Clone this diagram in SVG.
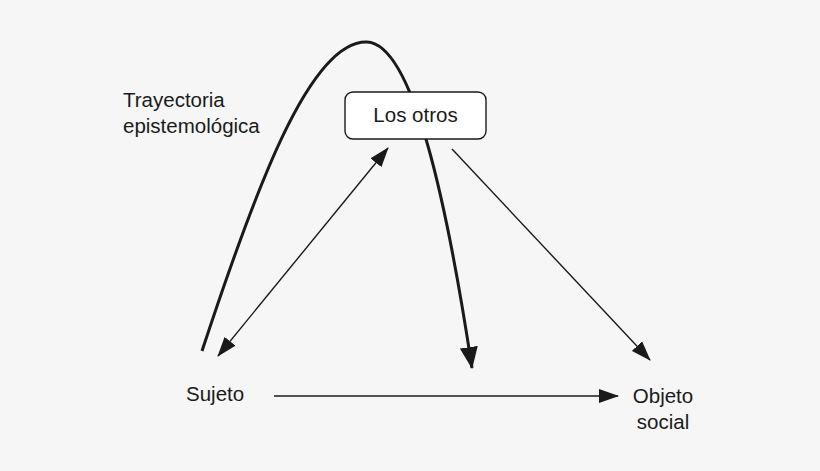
<svg xmlns="http://www.w3.org/2000/svg" width="820" height="471" viewBox="0 0 820 471">
<style>
text{font-family:"Liberation Sans",Arial,sans-serif;font-size:20.5px;fill:#1a1a1a}
.thin{stroke:#1a1a1a;stroke-width:1.4;fill:none}
</style>
<defs>
<marker id="ah" markerWidth="20" markerHeight="14" refX="19" refY="7" orient="auto" markerUnits="userSpaceOnUse"><path d="M0,0 L20,7 L0,14 Z" fill="#1a1a1a"/></marker>
<marker id="ahs" markerWidth="20" markerHeight="14" refX="19" refY="7" orient="auto-start-reverse" markerUnits="userSpaceOnUse"><path d="M0,0 L20,7 L0,14 Z" fill="#1a1a1a"/></marker>
<marker id="big" markerWidth="22" markerHeight="18" refX="21" refY="9" orient="auto" markerUnits="userSpaceOnUse"><path d="M0,0 L22,9 L0,18 Z" fill="#1a1a1a"/></marker>
</defs>
<rect width="820" height="471" fill="#f6f6f6"/>
<g id="connectors">
<path d="M202,351 C255,190 310,40 367,42 C414,44 448,210 472,368" stroke="#1a1a1a" stroke-width="3" fill="none" marker-end="url(#big)"/>
<line class="thin" x1="218" y1="356" x2="388" y2="148" marker-start="url(#ahs)" marker-end="url(#ahs)"/>
<line class="thin" x1="452" y1="149" x2="650" y2="360" marker-end="url(#ah)"/>
<line class="thin" x1="274" y1="396" x2="618" y2="396" marker-end="url(#ah)"/>
</g>
<g id="trayectoria"><text x="123" y="107">Trayectoria</text><text x="123" y="133">epistemológica</text></g>
<g id="los-otros"><rect x="345" y="92" width="141" height="47" rx="8" fill="#fff" stroke="#1a1a1a" stroke-width="1.4"/><text x="415.5" y="122" text-anchor="middle">Los otros</text></g>
<g id="sujeto"><text x="186" y="401">Sujeto</text></g>
<g id="objeto"><text x="663" y="403" text-anchor="middle">Objeto</text><text x="663" y="429" text-anchor="middle">social</text></g>
</svg>
